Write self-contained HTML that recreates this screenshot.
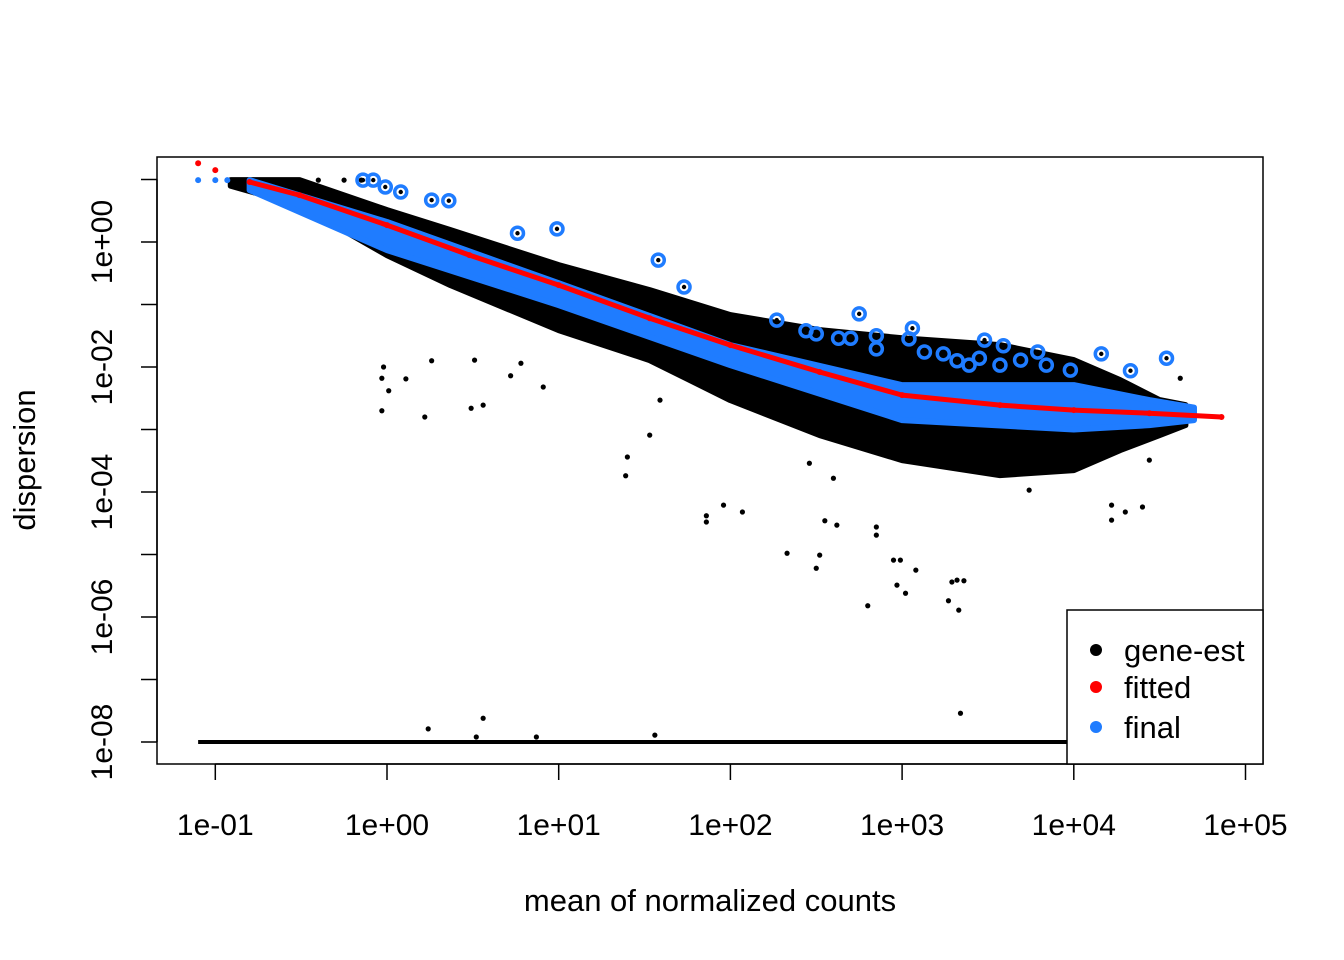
<!DOCTYPE html>
<html><head><meta charset="utf-8"><style>
body{margin:0;background:#fff}
svg{display:block;font-family:"Liberation Sans",Arial,sans-serif}
</style></head><body>
<svg id="chart" width="1344" height="960" xmlns="http://www.w3.org/2000/svg">
<rect width="1344" height="960" fill="#fff"/>
<g id="layers"></g>
<rect x="157" y="157" width="1106" height="607" fill="none" stroke="#000" stroke-width="1.5"/>
<g id="axes"></g>
<text x="710" y="911" font-size="31" text-anchor="middle">mean of normalized counts</text>
<text transform="translate(35,460) rotate(-90)" font-size="31" text-anchor="middle">dispersion</text>
<g>
<rect x="1067" y="610" width="196" height="154" fill="#fff" stroke="#000" stroke-width="1.5"/>
<circle cx="1096" cy="650" r="6" fill="#000"/>
<text x="1124" y="661" font-size="31">gene-est</text>
<circle cx="1096" cy="687" r="6" fill="#ff0000"/>
<text x="1124" y="698" font-size="31">fitted</text>
<circle cx="1096" cy="727" r="6" fill="#1f7cff"/>
<text x="1124" y="738" font-size="31">final</text>
</g>
</svg>
<script>
// log10 mean values / log10 dispersion values
const xTicks=[-1,0,1,2,3,4,5];
const xTickLabels=["1e-01","1e+00","1e+01","1e+02","1e+03","1e+04","1e+05"];
const yTicks=[1,0,-1,-2,-3,-4,-5,-6,-7,-8];
const yLabelTicks=[0,-2,-4,-6,-8];
const yTickLabels=["1e+00","1e-02","1e-04","1e-06","1e-08"];
// gene-estimate cloud quantile band
const cloudMean=[-0.91,-0.51,0,0.37,1.0,1.53,2.0,2.52,3.0,3.57,4.0,4.27,4.5,4.65];
const cloudUpper=[0.99,0.99,0.51,0.19,-0.37,-0.77,-1.17,-1.41,-1.54,-1.65,-1.89,-2.21,-2.53,-2.61];
const cloudLower=[0.9,0.59,-0.21,-0.69,-1.41,-1.89,-2.53,-3.09,-3.49,-3.73,-3.65,-3.33,-3.09,-2.93];
// final band
const finalMean=[-0.8,0,1.0,2.0,3.0,4.0,4.44,4.7];
const finalUpper=[0.99,0.32,-0.66,-1.65,-2.29,-2.29,-2.53,-2.65];
const finalLower=[0.83,-0.13,-1.01,-1.97,-2.85,-3.0,-2.93,-2.85];
const finalExtraX=[-1.1,-1.0,-0.93];
const finalExtraY=[0.99,0.99,0.99];
// fitted trend
const fitMean=[-1.1,-1.0,-0.8,-0.51,0,0.48,1.0,1.53,2.0,2.52,3.0,3.57,4.0,4.44,4.86];
const fitDisp=[1.26,1.15,0.96,0.75,0.27,-0.21,-0.69,-1.22,-1.65,-2.08,-2.45,-2.61,-2.69,-2.74,-2.8];
// zero-dispersion genes range (plotted at 1e-08)
const zeroRange=[-1.1,4.0];
const zeroDisp=-8;
// outlier genes (blue circles)
const outX=[-0.14,-0.08,-0.01,0.08,0.26,0.36,0.76,0.99,1.58,1.73,2.27,2.44,2.5,2.63,2.7,2.75,2.85,2.85,3.06,3.04,3.13,3.24,3.32,3.39,3.48,3.59,3.69,3.79,3.84,3.98,4.16,4.33,4.54,3.57,3.45];
const outY=[0.99,0.99,0.88,0.8,0.67,0.66,0.14,0.21,-0.29,-0.72,-1.25,-1.42,-1.47,-1.54,-1.54,-1.15,-1.5,-1.71,-1.38,-1.55,-1.76,-1.79,-1.9,-1.97,-1.57,-1.66,-1.89,-1.76,-1.97,-2.05,-1.79,-2.06,-1.86,-1.97,-1.86];
// scattered gene estimates
const geneX=[-0.02,-0.03,0.01,-0.03,0.11,0.26,0.22,0.51,0.49,0.56,0.78,0.72,0.91,1.4,1.39,1.59,1.53,1.86,1.86,1.96,2.07,2.33,2.52,2.5,2.55,2.62,2.46,2.6,2.85,2.85,2.95,2.99,2.97,3.02,3.08,2.8,3.29,3.32,3.36,3.27,3.33,3.34,0.24,0.56,0.52,0.87,1.56,4.22,4.3,4.4,4.22,4.62,4.44,3.74,-0.7,-0.55,-0.4,-0.25,-0.15];
const geneY=[-2.0,-2.18,-2.38,-2.7,-2.19,-1.9,-2.8,-1.89,-2.66,-2.61,-1.94,-2.14,-2.32,-3.44,-3.74,-2.53,-3.09,-4.38,-4.48,-4.21,-4.32,-4.98,-5.01,-5.22,-4.46,-4.53,-3.54,-3.78,-4.56,-4.69,-5.09,-5.09,-5.49,-5.62,-5.25,-5.82,-5.44,-5.41,-5.42,-5.74,-5.89,-7.54,-7.79,-7.62,-7.92,-7.92,-7.89,-4.45,-4.32,-4.24,-4.21,-2.18,-3.49,-3.97,0.99,0.99,0.99,0.99,0.99];

const X=v=>387+v*171.7, Y=v=>242-v*62.5;
const NS="http://www.w3.org/2000/svg";
const layers=document.getElementById('layers'), axes=document.getElementById('axes');
function mk(tag,attrs,parent){const e=document.createElementNS(NS,tag);for(const k in attrs)e.setAttribute(k,attrs[k]);parent.appendChild(e);return e;}
function band(xs,up,lo,fill){let pts=xs.map((x,i)=>X(x)+','+Y(up[i]));for(let i=xs.length-1;i>=0;i--)pts.push(X(xs[i])+','+Y(lo[i]));return mk('polygon',{points:pts.join(' '),fill:fill,stroke:fill,'stroke-width':6,'stroke-linejoin':'round'},layers);}
let e;
e=band(cloudMean,cloudUpper,cloudLower,'#000');


e=mk('line',{x1:X(zeroRange[0]),x2:X(zeroRange[1]),y1:Y(zeroDisp),y2:Y(zeroDisp),stroke:'#000','stroke-width':4},layers);


geneX.forEach((x,i)=>{const c=mk('circle',{cx:X(x),cy:Y(geneY[i]),r:2.6,fill:'#000'},layers);

});
e=band(finalMean,finalUpper,finalLower,'#1f7cff');


finalExtraX.forEach((x,i)=>{const c=mk('circle',{cx:X(x),cy:Y(finalExtraY[i]),r:3,fill:'#1f7cff'},layers);

});
e=mk('polyline',{points:fitMean.slice(2).map((x,i)=>X(x)+','+Y(fitDisp[i+2])).join(' '),fill:'none',stroke:'#ff0000','stroke-width':5,'stroke-linejoin':'round'},layers);


fitMean.forEach((x,i)=>{const c=mk('circle',{cx:X(x),cy:Y(fitDisp[i]),r:3,fill:'#ff0000'},layers);

});
outX.forEach((x,i)=>{const c=mk('circle',{cx:X(x),cy:Y(outY[i]),r:6,fill:'none',stroke:'#1f7cff','stroke-width':3.5},layers);


const d=mk('circle',{cx:X(x),cy:Y(outY[i]),r:2.2,fill:'#000'},layers);

});
// axes
e=mk('line',{x1:X(xTicks[0]),x2:X(xTicks[xTicks.length-1]),y1:764,y2:764,stroke:'#000','stroke-width':1.5},axes);


xTicks.forEach((t,i)=>{const l=mk('line',{x1:X(t),x2:X(t),y1:764,y2:780,stroke:'#000','stroke-width':1.5},axes);


const tx=mk('text',{x:X(t),y:835,'font-size':30,'text-anchor':'middle'},axes);tx.textContent=xTickLabels[i];

});
e=mk('line',{x1:157,x2:157,y1:Y(yTicks[0]),y2:Y(yTicks[yTicks.length-1]),stroke:'#000','stroke-width':1.5},axes);


yTicks.forEach(t=>{const l=mk('line',{x1:141,x2:157,y1:Y(t),y2:Y(t),stroke:'#000','stroke-width':1.5},axes);

});
yLabelTicks.forEach((t,i)=>{const tx=mk('text',{transform:`translate(112,${Y(t)}) rotate(-90)`,'font-size':30,'text-anchor':'middle'},axes);tx.textContent=yTickLabels[i];

});
</script>
</body></html>
